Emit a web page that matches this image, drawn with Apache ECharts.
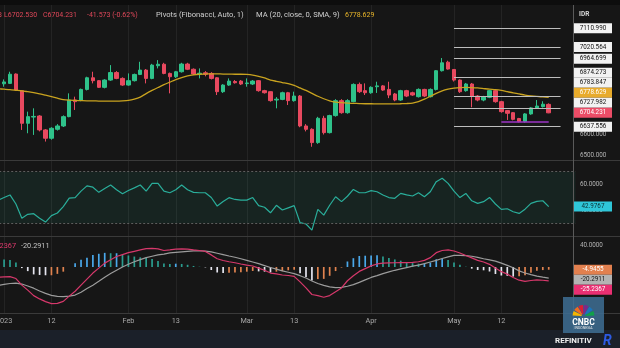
<!DOCTYPE html>
<html><head><meta charset="utf-8">
<script src="https://cdn.jsdelivr.net/npm/echarts@6/dist/echarts.min.js"></script>
<style>html,body{margin:0;padding:0;background:#161616;}#c{width:620px;height:348px;}</style>
</head><body><div id="c"></div>
<script>
// ---------- DATA ----------
const dates = ["2022-12-30",
"2023-01-02","2023-01-03","2023-01-04","2023-01-05","2023-01-06","2023-01-09","2023-01-10","2023-01-11","2023-01-12","2023-01-13",
"2023-01-16","2023-01-17","2023-01-18","2023-01-19","2023-01-20","2023-01-24","2023-01-25","2023-01-26","2023-01-27","2023-01-30","2023-01-31",
"2023-02-01","2023-02-02","2023-02-03","2023-02-06","2023-02-07","2023-02-08","2023-02-09","2023-02-10","2023-02-13","2023-02-14",
"2023-02-15","2023-02-16","2023-02-17","2023-02-20","2023-02-21","2023-02-22","2023-02-23","2023-02-24","2023-02-27","2023-02-28",
"2023-03-01","2023-03-02","2023-03-03","2023-03-06","2023-03-07","2023-03-08","2023-03-09","2023-03-10","2023-03-13","2023-03-14",
"2023-03-15","2023-03-16","2023-03-17","2023-03-20","2023-03-21","2023-03-24","2023-03-27","2023-03-28","2023-03-29","2023-03-30","2023-03-31",
"2023-04-03","2023-04-04","2023-04-05","2023-04-06","2023-04-10","2023-04-11","2023-04-12","2023-04-13","2023-04-14","2023-04-17","2023-04-18",
"2023-04-26","2023-04-27","2023-04-28",
"2023-05-02","2023-05-03","2023-05-04","2023-05-05","2023-05-08","2023-05-09","2023-05-10","2023-05-11","2023-05-12","2023-05-15",
"2023-05-16","2023-05-17","2023-05-19","2023-05-22","2023-05-23","2023-05-24","2023-05-25"];
const futureDates = ["2023-05-26","2023-05-29","2023-05-30","2023-05-31"];
const tickDates  = ["2023-01-02","2023-01-12","2023-02-01","2023-02-13","2023-03-01","2023-03-13","2023-04-03","2023-05-02","2023-05-12"];
const tickLabels = ["2023","12","Feb","13","Mar","13","Apr","May","12"];

const openV = [6857,6844,6846,6891,6811,6654,6684,6689,6622,6582,
6625,6641,6686,6766,6766,6817,6873,6859,6827,6862,
6898,6870,6838,6859,6889,6910,6870,6931,6938,6894,
6878,6902,6939,6914,6891,6897,6894,6873,6806,6838,
6855,6857,6845,6843,6859,6811,6806,6766,6769,6801,
6763,6785,6641,6625,6561,6678,6609,6691,6763,6705,
6758,6841,6811,6801,6830,6834,6817,6795,6766,6811,
6801,6782,6817,6782,6817,6907,6948,6913,6862,6811,
6843,6785,6766,6779,6811,6758,6715,6705,6677,6662,
6699,6728,6734,6745];
const closeV = [6850,6853,6890,6814,6654,6686,6687,6622,6582,6630,
6641,6686,6766,6758,6817,6873,6859,6827,6862,6898,
6870,6838,6859,6889,6910,6870,6934,6938,6894,6878,
6902,6939,6914,6891,6895,6890,6870,6806,6838,6857,
6849,6843,6848,6857,6811,6801,6763,6770,6801,6763,
6785,6641,6625,6561,6678,6609,6691,6763,6705,6763,
6841,6806,6801,6827,6834,6814,6790,6766,6811,6785,
6790,6817,6785,6817,6907,6945,6915,6862,6806,6843,
6785,6766,6782,6811,6758,6710,6702,6673,6662,6699,
6728,6737,6745.804,6704.231];
const highV = [6862,6865,6902,6894,6813,6710,6726,6693,6626,6635,
6650,6692,6798,6782,6821,6878,6902,6862,6866,6934,
6905,6875,6894,6893,6950,6915,6940,6958,6945,6898,
6906,6945,6945,6918,6918,6905,6900,6876,6842,6870,
6862,6862,6870,6862,6862,6815,6808,6780,6806,6805,
6806,6790,6650,6630,6685,6690,6695,6770,6770,6770,
6846,6850,6846,6832,6854,6838,6854,6800,6815,6815,
6806,6822,6820,6822,6910,6968,6955,6915,6865,6848,
6848,6790,6786,6815,6815,6762,6718,6708,6680,6703,
6732,6766,6760,6750];
const lowV = [6845,6830,6843,6810,6622,6606,6598,6615,6566,6575,
6619,6636,6683,6718,6760,6812,6846,6824,6822,6858,
6866,6834,6835,6855,6886,6846,6866,6918,6890,6798,
6872,6898,6910,6886,6870,6880,6865,6790,6800,6834,
6845,6838,6830,6838,6806,6797,6758,6726,6765,6742,
6758,6635,6615,6541,6555,6600,6605,6686,6700,6700,
6755,6800,6790,6796,6800,6810,6775,6760,6762,6780,
6786,6778,6780,6778,6812,6903,6912,6855,6800,6806,
6731,6760,6760,6775,6753,6705,6670,6668,6658,6657,
6695,6724,6730,6702.53];
const ma20 = [6820,6818,6816,6813,6810,6806,6802,6796,6789,6782,
6775,6768,6765,6764,6763,6762,6762,6761,6761,6761,
6761,6762,6764,6770,6780,6797,6812,6826,6840,6852,
6864,6874,6882,6887,6890,6891,6892,6892,6891,6891,
6890,6890,6889,6886,6880,6872,6862,6856,6850,6845,
6836,6824,6812,6798,6784,6772,6762,6756,6753,6751,
6750,6749,6748,6748,6747,6747,6747,6747,6748,6749,
6751,6758,6770,6784,6798,6810,6818,6823,6826,6827,
6826,6824,6821,6818,6816,6812,6806,6800,6795,6790,
6786,6783,6781,6778.629];
const rsi = [48,50,52,45,34,37,37.5,34,31,36,
38,43,49.5,50,55,59,58,54,57,59.7,
56,53,55.5,57.5,59.7,55,61,61,55,53.7,
56,59.7,56,54,53.7,53.7,50,43.4,47,49.9,
48.5,48,48,50,43.7,42.5,38.2,44,40.3,42,
43.7,30.5,29.5,24.8,40.8,36.4,44,50.6,46.8,51,
56.3,53.7,53.7,55.3,54.5,52,50,49.4,53.2,52,
51.2,53.7,50.6,54.5,62.3,64.9,61,55,50,53.2,
47.5,45.5,46.8,50.1,45,40.8,41.3,39,37.7,41,
45.5,47,47.5,42.9767];
const macdLine = [-18.7,-17.8,-17.5,-21,-33,-42,-52,-58,-63,-66.5,
-66,-62.5,-53,-44,-33,-22,-11,-2,7,13,
19,22.5,26,28.5,31,33.5,34,33,30,31,
32.5,33,32.5,31.2,30,28.3,22,15,11.8,9.5,
7.7,5.5,3.5,1.8,-2,-6,-11,-12.5,-14.5,-15.5,
-17,-27,-38,-50,-52,-55,-52,-45,-38,-25,
-16,-8,-3,2,5.5,7,7.5,7.7,8,7.8,
8.5,9.5,12,17,26,30,31.2,29,25.4,21,
16.5,12,9,4.8,-2,-8.5,-13,-19,-24,-26,
-24.5,-23.5,-24.1,-25.2367];
const signalLine = [-33.4,-31.5,-30,-29.3,-31,-34.5,-38.5,-43.5,-48,-51.5,
-53.5,-54,-53,-51,-46,-39,-33,-26,-18.7,-12,
-6,0,5,9.5,13.5,17,19.5,22,23.5,25.5,
26.5,27.5,28.5,29.3,29.5,29,27.5,25,22.5,20,
17.7,15,12,9,6,2.5,-1,-4,-7,-9.5,
-12,-15.8,-20,-25.5,-30,-33.4,-36,-37.6,-37,-35,
-32,-28,-23.5,-19,-15.8,-12,-9,-6,-3.5,-1,
1.5,3.5,6,9,12,15.5,18.5,21,21.2,20.5,
19.5,17.5,15,13,10.7,7,3,-1.5,-7,-11,
-14,-16.5,-18.5,-20.2911];
const macdHist = [14.7,13.7,12.5,8.3,-2,-7.5,-13.5,-14.5,-15,-15,
-12.5,-8.5,0,7,13,17,22,24,25.7,25,
25,22.5,21,19,17.5,16.5,14.5,11,6.5,5.5,
6,5.5,4,1.9,0.5,-0.7,-5.5,-10,-10.7,-10.5,
-10,-9.5,-8.5,-7.2,-8,-8.5,-10,-8.5,-7.5,-6,
-5,-11.2,-18,-24.5,-22,-21.6,-16,-7.4,-1,10,
16,20,20.5,21,21.3,19,16.5,13.7,11.5,8.8,
7,6,6,8,14,14.5,12.7,8,4.2,0.5,
-3,-5.5,-6,-8.2,-12.7,-15.5,-16,-17.5,-17,-15,
-10.5,-7,-5.6,-4.9455];
const pivotLevels = [7110.990, 7020.564, 6964.699, 6874.273, 6783.847, 6727.982, 6637.556];
const pivotStart = "2023-05-02", pivotEnd = "2023-05-29";
const purpleLevel = 6661, purpleStart = "2023-05-12", purpleEnd = "2023-05-25";

// ---------- CHART ----------
const FONT = 'Roboto, "Liberation Sans", sans-serif';
const cats = dates.concat(futureDates);
const candleData = openV.map((o, k) => [o, closeV[k], lowV[k], highV[k]]);
const GL = -4.8, GW = 580.16;
const isTick = (i, v) => tickDates.indexOf(v) >= 0;

function xAxisFor(k) {
  return {
    type: 'category', gridIndex: k, data: cats, boundaryGap: true,
    axisLine: { show: false }, axisTick: { show: false, alignWithLabel: true },
    axisLabel: {
      show: k === 2, interval: isTick, fontFamily: FONT, fontSize: 7.3, color: '#a9a9a9', margin: 5,
      formatter: v => { const j = tickDates.indexOf(v); return j >= 0 ? tickLabels[j] : ''; }
    },
    splitLine: { show: true, interval: isTick, alignWithLabel: true, lineStyle: { color: '#242424', width: 1 } }
  };
}
function yAxisFor(k, min, max, vals, dec) {
  return {
    type: 'value', gridIndex: k, position: 'right', min: min, max: max,
    axisLine: { show: false }, axisTick: { show: false }, splitLine: { show: false },
    axisLabel: { customValues: vals, formatter: v => Number(v).toFixed(dec), color: '#b4b4b4',
      fontFamily: FONT, fontSize: 6.3, margin: 4.6 }
  };
}

const chart = echarts.init(document.getElementById('c'));
const option = {
  animation: false,
  backgroundColor: '#161616',
  grid: [
    { left: GL, width: GW, top: 5, height: 155, outerBoundsMode: 'none' },
    { left: GL, width: GW, top: 161, height: 75, outerBoundsMode: 'none' },
    { left: GL, width: GW, top: 237, height: 76, outerBoundsMode: 'none' }
  ],
  xAxis: [xAxisFor(0), xAxisFor(1), xAxisFor(2)],
  yAxis: [
    yAxisFor(0, 6477.3, 7223.2, [6500, 6600], 3),
    yAxisFor(1, 20.2, 78.3, [40, 60], 4),
    yAxisFor(2, -83.6, 54.5, [40], 4)
  ],
  series: [
    {
      type: 'candlestick', xAxisIndex: 0, yAxisIndex: 0, data: candleData, barWidth: 4,
      itemStyle: { color: '#2fc28a', color0: '#e8495f', borderColor: '#2fc28a', borderColor0: '#e8495f', borderWidth: 1 },
      markLine: {
        silent: true, symbol: ['none', 'none'], label: { show: false },
        lineStyle: { color: '#bdbdbd', width: 1, type: 'solid' },
        data: pivotLevels.map(v => [{ coord: [pivotStart, v] }, { coord: [pivotEnd, v] }]).concat([
          [{ coord: [purpleStart, purpleLevel], lineStyle: { color: '#9d34c4', width: 1.6, type: 'solid' } },
           { coord: [purpleEnd, purpleLevel] }]
        ])
      }
    },
    {
      type: 'line', xAxisIndex: 0, yAxisIndex: 0, data: ma20, showSymbol: false, smooth: 0.2,
      lineStyle: { color: '#c9a31f', width: 1.3 }, z: 3
    },
    {
      type: 'line', xAxisIndex: 1, yAxisIndex: 1, data: rsi, showSymbol: false,
      lineStyle: { color: '#2aae9b', width: 1.2 },
      markArea: { silent: true, itemStyle: { color: 'rgba(40,170,140,0.10)' }, data: [[{ yAxis: 70 }, { yAxis: 30 }]] },
      markLine: { silent: true, symbol: ['none', 'none'], label: { show: false },
        lineStyle: { color: '#5e5e5e', width: 1, type: [2, 2] }, data: [{ yAxis: 70 }, { yAxis: 30 }] }
    },
    {
      type: 'bar', xAxisIndex: 2, yAxisIndex: 2, data: macdHist, barWidth: 1.7,
      itemStyle: {
        color: p => {
          const k = p.dataIndex, v = macdHist[k], prev = k > 0 ? macdHist[k - 1] : v;
          if (v >= 0) return v >= prev ? '#4aa8ea' : '#2a9d8f';
          return v < prev ? '#e4e4ee' : '#e0834f';
        }
      }
    },
    { type: 'line', xAxisIndex: 2, yAxisIndex: 2, data: signalLine, showSymbol: false, lineStyle: { color: '#9c9c9c', width: 1.2 } },
    { type: 'line', xAxisIndex: 2, yAxisIndex: 2, data: macdLine, showSymbol: false, lineStyle: { color: '#d6386b', width: 1.2 } }
  ]
};
chart.setOption(option);

// ---------- price labels on the right (stacked like the terminal) ----------
function box(y, txt, bg, fg) {
  return [
    { type: 'rect', z: 100, shape: { x: 574, y: y - 5, width: 38, height: 10 }, style: { fill: bg } },
    { type: 'text', z: 101, x: 593, y: y, style: { text: txt, fill: fg, font: '6.3px ' + FONT, align: 'center', verticalAlign: 'middle' } }
  ];
}
const els = [];
const mainItems = pivotLevels.map(v => ({ v: v, bg: '#f2f2f2', fg: '#111111' }));
mainItems.push({ v: ma20[ma20.length - 1], bg: '#e8ab2b', fg: '#ffffff' });
mainItems.push({ v: closeV[closeV.length - 1], bg: '#ec4d67', fg: '#ffffff' });
mainItems.forEach(it => it.y = chart.convertToPixel({ yAxisIndex: 0 }, it.v));
mainItems.sort((a, b) => a.y - b.y);
for (let k = mainItems.length - 2; k >= 0; k--) mainItems[k].y = Math.min(mainItems[k].y, mainItems[k + 1].y - 10);
mainItems.forEach(it => els.push(...box(it.y, it.v.toFixed(3), it.bg, it.fg)));
const rv = rsi[rsi.length - 1];
els.push(...box(chart.convertToPixel({ yAxisIndex: 1 }, rv), rv.toFixed(4), '#2fc6d8', '#0b2f33'));
const mItems = [
  { v: macdHist[macdHist.length - 1], bg: '#e2804f', fg: '#ffffff' },
  { v: signalLine[signalLine.length - 1], bg: '#b3b3b3', fg: '#111111' },
  { v: macdLine[macdLine.length - 1], bg: '#e92f72', fg: '#ffffff' }
];
mItems.forEach(it => it.y = chart.convertToPixel({ yAxisIndex: 2 }, it.v));
mItems.sort((a, b) => a.y - b.y);
for (let k = 1; k < mItems.length; k++) mItems[k].y = Math.max(mItems[k].y, mItems[k - 1].y + 10);
mItems.forEach(it => els.push(...box(it.y, it.v.toFixed(4), it.bg, it.fg)));

const RF = '7px ' + FONT, HF = '7.6px ' + FONT;
const sep = (y) => ({ type: 'line', z: 50, shape: { x1: 0, y1: y, x2: 620, y2: y }, style: { stroke: '#3a3a3a', lineWidth: 1 } });
els.push(
  { type: 'rect', z: 40, shape: { x: 0, y: 0, width: 620, height: 5 }, style: { fill: '#0d0d0d' } },
  sep(160.5), sep(236.5), sep(313.5),
  { type: 'line', z: 50, shape: { x1: 573.5, y1: 5, x2: 573.5, y2: 330 }, style: { stroke: '#5a5a5a', lineWidth: 1 } },
  { type: 'text', z: 60, x: 579, y: 14, style: { text: 'IDR', fill: '#d8d8d8', font: 'bold 6.5px ' + FONT, verticalAlign: 'middle' } },
  { type: 'text', z: 60, x: 2, y: 15, style: { text: '3', fill: '#e0485a', font: RF, align: 'right', verticalAlign: 'middle' } },
  { type: 'text', z: 60, x: 4, y: 15, style: { text: 'L6702.530', fill: '#e0485a', font: RF, verticalAlign: 'middle' } },
  { type: 'text', z: 60, x: 43, y: 15, style: { text: 'C6704.231', fill: '#e0485a', font: RF, verticalAlign: 'middle' } },
  { type: 'text', z: 60, x: 87, y: 15, style: { text: '-41.573 (-0.62%)', fill: '#e0485a', font: RF, verticalAlign: 'middle' } },
  { type: 'text', z: 60, x: 156, y: 15, style: { text: 'Pivots (Fibonacci, Auto, 1)', fill: '#d0d0d0', font: HF, verticalAlign: 'middle' } },
  { type: 'text', z: 60, x: 256, y: 15, style: { text: 'MA (20, close, 0, SMA, 9)', fill: '#d0d0d0', font: HF, verticalAlign: 'middle' } },
  { type: 'text', z: 60, x: 345, y: 15, style: { text: '6778.629', fill: '#e8b52a', font: RF, verticalAlign: 'middle' } },
  { type: 'text', z: 60, x: 16, y: 246, style: { text: '-25.2367', fill: '#e03a6e', font: '7.3px ' + FONT, align: 'right', verticalAlign: 'middle' } },
  { type: 'text', z: 60, x: 21, y: 246, style: { text: '-20.2911', fill: '#c4c4c4', font: '7.3px ' + FONT, verticalAlign: 'middle' } },
  { type: 'rect', z: 40, shape: { x: 0, y: 330, width: 620, height: 18 }, style: { fill: '#1b2029' } },
  { type: 'text', z: 60, x: 555, y: 341, style: { text: 'REFINITIV', fill: '#f0f0f0', font: 'bold 8px ' + FONT, verticalAlign: 'middle' } },
  { type: 'text', z: 60, x: 603, y: 341, style: { text: 'R', fill: '#2d5be3', font: 'bold italic 14px ' + FONT, verticalAlign: 'middle' } },
  { type: 'rect', z: 70, shape: { x: 563, y: 297, width: 41, height: 36 }, style: { fill: 'rgba(62,108,145,0.88)' } }
);
const petals = ['#f7b500', '#f26b1d', '#d91e36', '#7a2a8c', '#1b75bc', '#0fa14a'];
petals.forEach((c, k) => els.push({ type: 'sector', z: 71,
  shape: { cx: 583.5, cy: 316, r: 11, r0: 2, startAngle: Math.PI + k * Math.PI / 6 + 0.04, endAngle: Math.PI + (k + 1) * Math.PI / 6 - 0.04 },
  style: { fill: c } }));
els.push(
  { type: 'text', z: 72, x: 583.5, y: 322.5, style: { text: 'CNBC', fill: '#ffffff', font: 'bold 8.5px ' + FONT, align: 'center', verticalAlign: 'middle' } },
  { type: 'text', z: 72, x: 583.5, y: 328.5, style: { text: 'INDONESIA', fill: '#e8e8e8', font: '3.5px ' + FONT, align: 'center', verticalAlign: 'middle' } }
);
chart.setOption({ graphic: { elements: els } });
</script>
</body></html>
